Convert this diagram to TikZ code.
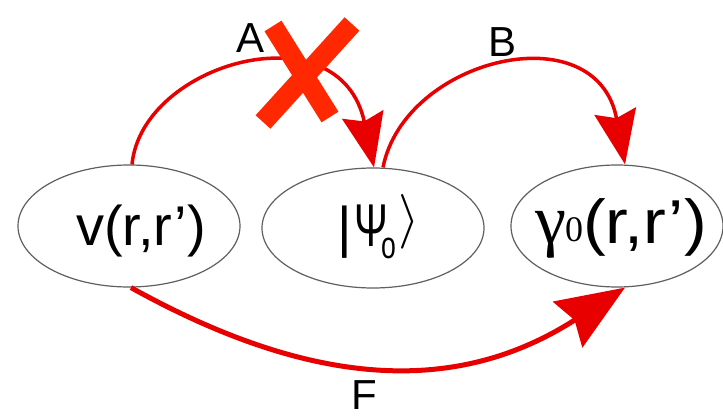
\documentclass[tikz,border=0pt]{standalone}
\usepackage{fontspec}
\usepackage{graphicx}
\setmainfont{Liberation Sans}
\newfontfamily\serifgr{Liberation Serif}
\usetikzlibrary{arrows.meta,shapes.geometric}
\definecolor{arrred}{RGB}{232,0,0}
\definecolor{crossred}{RGB}{255,40,0}
\definecolor{ellgray}{RGB}{95,95,95}
\begin{document}
\begin{tikzpicture}[x=1pt,y=-1pt,
  ell/.style={draw=ellgray, line width=1.2pt, ellipse, inner sep=0pt},
  txt/.style={inner sep=0pt, anchor=base, font=\fontsize{56}{60}\selectfont},
  lbl/.style={inner sep=0pt, anchor=base, font=\fontsize{42}{46}\selectfont},
  conn/.style={draw=arrred, line width=3.5pt},
  head/.style={-{Stealth[length=54pt,width=42pt,inset=7pt]}},
  bighead/.style={-{Stealth[length=68pt,width=54pt,inset=8pt]}},
  crossstroke/.style={draw=crossred, line width=20pt},
]
\fill[white] (0,0) rectangle (723,417);
\useasboundingbox (0,0) rectangle (723,417);

\node[ell, minimum width=222pt, minimum height=122pt] (v) at (129,226) {};
\node[ell, minimum width=222pt, minimum height=120pt] (psi) at (373,228) {};
\node[ell, minimum width=212pt, minimum height=122pt] (gam) at (617,226) {};

\node[txt] (vt) at (141,245) {v(r,r’)};
\node[txt] (psit) at (379,246) {|\kern2pt\scalebox{0.72}[1.08]{Ψ}\kern-7pt\raisebox{-12pt}{\fontsize{38}{38}\selectfont\scalebox{0.7}[1]{o}}\kern3pt\raisebox{10pt}{\scalebox{2.2}{$\rangle$}}};
\node[txt] (gamt) at (621,243) {{\serifgr\fontsize{70}{72}\selectfont γ\kern-1pt\raisebox{2pt}{\fontsize{36}{36}\selectfont 0}}{\fontsize{62}{64}\selectfont\scalebox{1.1}[1]{(r,r’)}}};

\draw[conn, head] ([xshift=3pt]v.north) .. controls +(10,-102) and +(-34,-160) .. ([xshift=1pt]psi.north);
\draw[conn, head] ([xshift=10pt]psi.north) .. controls +(22,-110) and +(-28,-152) .. ([xshift=8pt]gam.north);
\draw[conn, line width=5pt, bighead] ([xshift=2pt]v.south) .. controls +(189,105) and +(-163,105) .. ([xshift=8pt]gam.south);

\draw[crossstroke] (273,26) -- (330,117);
\draw[crossstroke] (352,24) -- (263,122);

\node[lbl] (la) at (251,53) {A};
\node[lbl] (lb) at (503,57) {B};
\node[lbl] (lf) at (364,409) {F};
\end{tikzpicture}
\end{document}
